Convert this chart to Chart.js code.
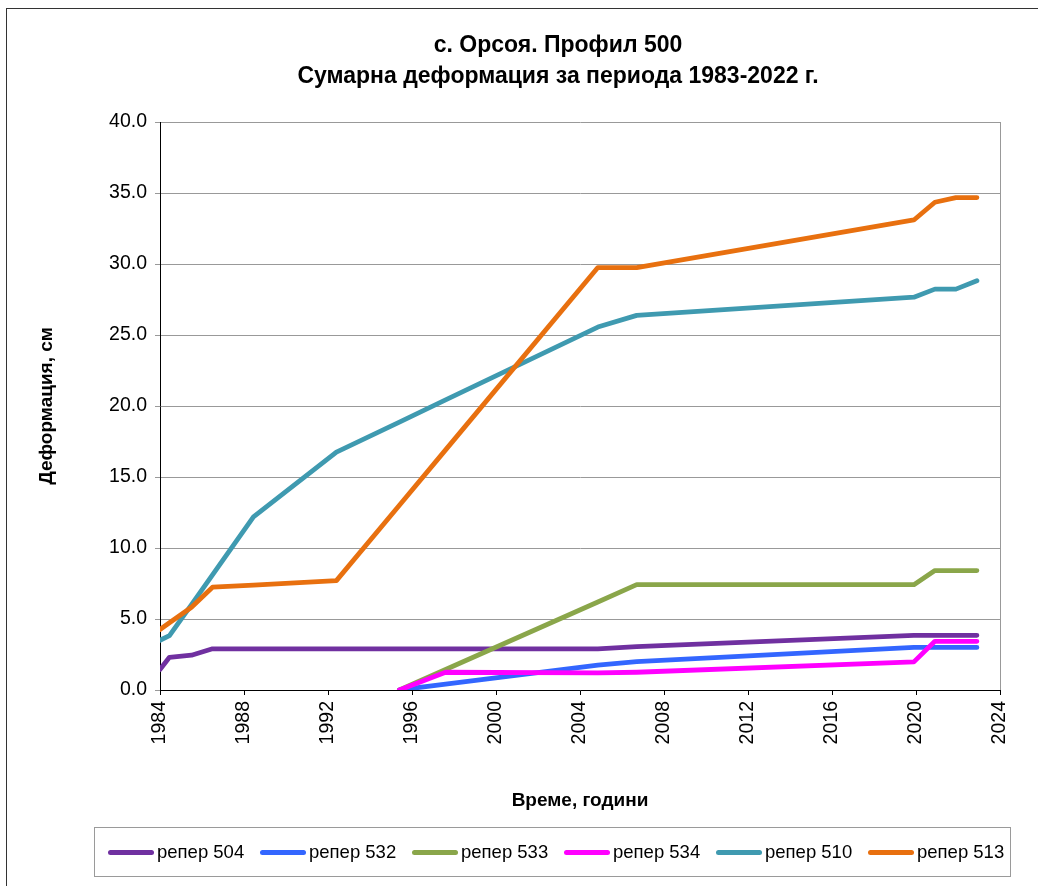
<!DOCTYPE html>
<html lang="bg">
<head>
<meta charset="utf-8">
<title>с. Орсоя. Профил 500</title>
<script src="https://cdn.jsdelivr.net/npm/chart.js@4/dist/chart.umd.min.js"></script>
<style>
  html, body { margin: 0; padding: 0; background: #fff; overflow: hidden; }
  #wrap { position: relative; width: 1038px; height: 886px; font-family: "Liberation Sans", Arial, sans-serif; }
  #frame { position: absolute; left: 6px; top: 8px; width: 1100px; height: 1000px; border: 1px solid #333; box-sizing: border-box; }
  #title { position: absolute; left: 78px; top: 29px; width: 960px; text-align: center; font-weight: bold; font-size: 23px; line-height: 31px; color: #000; }
  #chart { position: absolute; left: 0; top: 0; }
  #legend { position: absolute; left: 94px; top: 827px; width: 917px; height: 50px; border: 1px solid #9a9a9a; box-sizing: border-box; }
  .item { position: absolute; top: 0; height: 48px; display: flex; align-items: center; font-size: 18.5px; color: #000; white-space: nowrap; }
  .swatch { display: inline-block; width: 46px; height: 5px; border-radius: 3px; margin-right: 3px; }
</style>
</head>
<body>
<div id="wrap">
  <div id="frame"></div>
  <canvas id="chart" width="1038" height="886"></canvas>
  <div id="title">с. Орсоя. Профил 500<br>Сумарна деформация за периода 1983-2022 г.</div>
  <div id="legend"></div>
</div>
<script>
// measurement epochs (decimal years)
const years = [1984.0, 1984.45, 1985.5, 1986.5, 1988.45, 1992.4, 1995.4, 1997.6, 2004.85, 2006.7, 2019.9, 2020.9, 2021.9, 2022.9];

// cumulative deformation, cm (null = not measured yet)
const reper504 = [1.45, 2.3, 2.45, 2.9, 2.9, 2.9, 2.9, 2.9, 2.9, 3.05, 3.85, 3.85, 3.85, 3.85];
const reper532 = [null, null, null, null, null, null, 0, 0.42, 1.75, 2.0, 3.0, 3.0, 3.0, 3.0];
const reper533 = [null, null, null, null, null, null, 0, 1.44, 6.2, 7.42, 7.42, 8.41, 8.41, 8.41];
const reper534 = [null, null, null, null, null, null, 0, 1.25, 1.2, 1.25, 1.98, 3.43, 3.43, 3.43];
const reper510 = [3.5, 3.83, 6.02, 8.11, 12.19, 16.75, 18.87, 20.43, 25.56, 26.38, 27.66, 28.23, 28.23, 28.82];
const reper513 = [4.26, 4.73, 5.83, 7.24, 7.39, 7.7, 13.01, 16.91, 29.75, 29.75, 33.1, 34.35, 34.68, 34.68];

const seriesNames = ["репер 504", "репер 532", "репер 533", "репер 534", "репер 510", "репер 513"];
const seriesValues = [reper504, reper532, reper533, reper534, reper510, reper513];
const seriesColors = ["#7030a0", "#3366ff", "#8aa64a", "#ff00ff", "#3f9ab0", "#e8700f"];

const xTicks = [1984, 1988, 1992, 1996, 2000, 2004, 2008, 2012, 2016, 2020, 2024];
const yTicks = [0, 5, 10, 15, 20, 25, 30, 35, 40];

const FONT = "'Liberation Sans', Arial, sans-serif";

const datasets = seriesNames.map((name, i) => ({
  label: name,
  data: years.map((x, k) => ({ x: x, y: seriesValues[i][k] })).filter(p => p.y !== null),
  borderColor: seriesColors[i],
  backgroundColor: seriesColors[i],
  borderWidth: 4.8,
  borderCapStyle: "round",
  borderJoinStyle: "round",
  pointRadius: 0,
  tension: 0,
  order: seriesNames.length - i   // later series drawn on top
}));

new Chart(document.getElementById("chart").getContext("2d"), {
  type: "line",
  data: { datasets: datasets },
  options: {
    responsive: false,
    animation: false,
    devicePixelRatio: 1,
    layout: { padding: { left: 30, right: 38, top: 122, bottom: 66 } },
    plugins: {
      legend: { display: false },
      tooltip: { enabled: false }
    },
    scales: {
      x: {
        type: "linear",
        min: xTicks[0],
        max: xTicks[xTicks.length - 1],
        afterBuildTicks: (scale) => { scale.ticks = xTicks.map(v => ({ value: v })); },
        afterFit: (scale) => { scale.height = 130; },
        ticks: {
          minRotation: 90,
          maxRotation: 90,
          padding: 6,
          color: "#000",
          font: { family: FONT, size: 19.5 },
          callback: (v) => String(v)
        },
        grid: {
          drawOnChartArea: true,
          color: (ctx) => (ctx.tick && ctx.tick.value === 2024 ? "#999" : "rgba(0,0,0,0)"),
          tickColor: "#000",
          tickLength: 5
        },
        border: { color: "#000", width: 1 },
        title: {
          display: true,
          text: "Време, години",
          color: "#000",
          font: { family: FONT, size: 19, weight: "bold" },
          padding: { top: 0, bottom: 7.6 }
        }
      },
      y: {
        min: yTicks[0],
        max: yTicks[yTicks.length - 1],
        afterBuildTicks: (scale) => { scale.ticks = yTicks.map(v => ({ value: v })); },
        afterFit: (scale) => { scale.width = 130; },
        ticks: {
          padding: 8,
          color: "#000",
          font: { family: FONT, size: 19.5 },
          callback: (v) => v.toFixed(1)
        },
        grid: { color: "#999", tickColor: "#999", tickLength: 5 },
        border: { color: "#000", width: 1 },
        title: {
          display: true,
          text: "Деформация, см",
          color: "#000",
          font: { family: FONT, size: 19, weight: "bold" },
          padding: { top: 5.6, bottom: 0 }
        }
      }
    }
  }
});

// legend row
const legend = document.getElementById("legend");
seriesNames.forEach((name, i) => {
  const item = document.createElement("div");
  item.className = "item";
  item.style.left = (13 + i * 152) + "px";
  const sw = document.createElement("span");
  sw.className = "swatch";
  sw.style.background = seriesColors[i];
  item.appendChild(sw);
  item.appendChild(document.createTextNode(name));
  legend.appendChild(item);
});
</script>
</body>
</html>
